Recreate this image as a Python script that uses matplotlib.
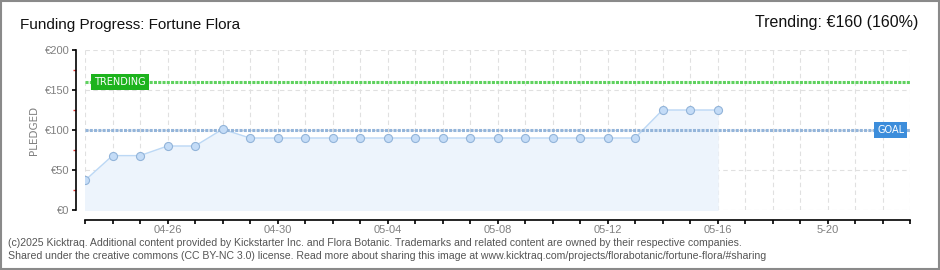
import numpy as np
import pandas as pd
import matplotlib
matplotlib.use("Agg")
import matplotlib.pyplot as plt
import matplotlib.dates as mdates

# datos del grafico
fechas = pd.date_range("2025-04-23", "2025-05-16", freq="D")
pledged = [37, 68, 68, 80, 80, 101, 90, 90, 90, 90, 90, 90, 90, 90, 90, 90, 90, 90, 90, 90, 90, 125, 125, 125]
goal = 100
trending = 160
eje_inicio = pd.Timestamp("2025-04-23")
eje_fin = pd.Timestamp("2025-05-23")
fechas_etiqueta = pd.to_datetime(["2025-04-26", "2025-04-30", "2025-05-04", "2025-05-08",
                                  "2025-05-12", "2025-05-16", "2025-05-20"])
etiquetas_x = ["04-26", "04-30", "05-04", "05-08", "05-12", "05-16", "5-20"]
valores_y = [0, 50, 100, 150, 200]
etiquetas_y = ["€0", "€50", "€100", "€150", "€200"]

plt.rcParams['font.family'] = ['Liberation Sans', 'DejaVu Sans']

PX = 0.72  # puntos por pixel a 100 dpi

fig = plt.figure(figsize=(9.4, 2.7), dpi=100)
ax = fig.add_axes([85/940, 60/270, 825/940, 160/270])

# borde exterior
fig.patches.append(plt.Rectangle((0.001, 0.002), 0.998, 0.995, transform=fig.transFigure,
                                 fill=False, edgecolor="#8a8a8a", linewidth=1.5))

ax.set_xlim(eje_inicio, eje_fin)
ax.set_ylim(0, 200)

# rejilla
for f in pd.date_range(eje_inicio, eje_fin, freq="D"):
    ax.axvline(f, color="#e0e0e0", linestyle=(0, (4, 3)), linewidth=0.8, zorder=0)
for v in valores_y:
    ax.axhline(v, color="#e0e0e0", linestyle=(0, (4, 3)), linewidth=0.8, zorder=0)

# area y linea
ax.fill_between(fechas, pledged, 0, color="#edf4fc", zorder=1)
ax.plot(fechas, pledged, color="#bcd8f5", linewidth=1, zorder=2)
ax.plot(fechas, pledged, linestyle="none", marker="o", markersize=5.8,
        markerfacecolor="#c4dcf7", markeredgecolor="#92b4d9", markeredgewidth=0.8, zorder=4)

# lineas de objetivo y tendencia
ax.axhline(trending, color="#5fd25f", linestyle=(0, (1.0, 0.4)), linewidth=2.2, zorder=3)
ax.axhline(goal, color="#94b5da", linestyle=(0, (1.0, 0.4)), linewidth=2.2, zorder=3)
ax.text(pd.Timestamp("2025-04-23 08:00"), trending, "TRENDING", color="white", fontsize=7,
        family="DejaVu Sans", va="center", ha="left", zorder=5,
        bbox=dict(boxstyle="square,pad=0.3", facecolor="#1db31d", edgecolor="none"))
ax.text(pd.Timestamp("2025-05-22 19:00"), goal, "GOAL", color="white", fontsize=7,
        family="DejaVu Sans", va="center", ha="right", zorder=5,
        bbox=dict(boxstyle="square,pad=0.3", facecolor="#3c8ddb", edgecolor="none"))

# ejes
for lado in ["top", "right"]:
    ax.spines[lado].set_visible(False)
ax.spines["left"].set_position(("outward", 9 * PX))
ax.spines["bottom"].set_position(("outward", 10 * PX))
ax.spines["left"].set_linewidth(1.2)
ax.spines["bottom"].set_linewidth(1.2)

ax.set_yticks(valores_y)
ax.set_yticklabels(etiquetas_y)
ax.set_yticks([25, 75, 125, 175], minor=True)
ax.tick_params(axis="y", which="major", length=4 * PX, width=1.2, colors="black", labelcolor="#808080",
               labelsize=8, pad=2)
ax.tick_params(axis="y", which="minor", length=3 * PX, width=1, color="#e03030")

ax.xaxis.set_minor_locator(mdates.DayLocator())
ax.set_xticks(fechas_etiqueta)
ax.set_xticklabels(etiquetas_x)
ax.tick_params(axis="x", which="both", length=4 * PX, width=1.2, colors="black", labelcolor="#808080",
               labelsize=8, pad=1)

ax.set_ylabel("PLEDGED", color="#808080", fontsize=7.5, labelpad=4, family="DejaVu Sans")

# textos
fig.text(20/940, 1 - 25/270, "Funding Progress: Fortune Flora", fontsize=11, color="#111111",
         va="center", ha="left")
fig.text(918/940, 1 - 22/270, "Trending: €160 (160%)", fontsize=11.5, color="#111111",
         va="center", ha="right")
fig.text(8/940, 1 - 243/270, "(c)2025 Kicktraq. Additional content provided by Kickstarter Inc. and Flora Botanic. "
         "Trademarks and related content are owned by their respective companies.",
         fontsize=7.6, color="#555555", va="center", ha="left")
fig.text(8/940, 1 - 256/270, "Shared under the creative commons (CC BY-NC 3.0) license. Read more about sharing this "
         "image at www.kicktraq.com/projects/florabotanic/fortune-flora/#sharing",
         fontsize=7.6, color="#555555", va="center", ha="left")

fig.savefig("out.png", dpi=100)
